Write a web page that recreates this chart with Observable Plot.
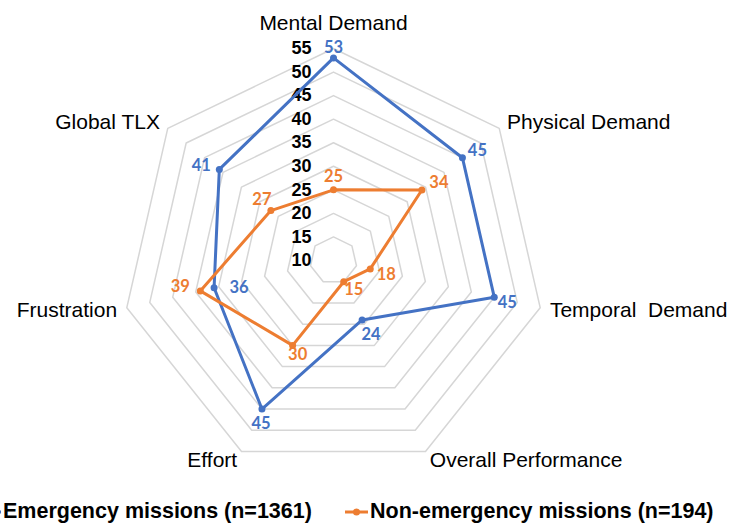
<!DOCTYPE html>
<html><head><meta charset="utf-8">
<script src="https://cdn.jsdelivr.net/npm/d3@7"></script>
<script src="https://cdn.jsdelivr.net/npm/@observablehq/plot@0.6"></script>
<style>
html,body{margin:0;padding:0;background:#fff;overflow:hidden;}
#wrap{position:relative;width:734px;height:524px;overflow:hidden;}
#chart svg{display:block;}
.leg-item{position:absolute;top:0;height:34px;white-space:nowrap;}
.leg-item svg{position:absolute;top:10px;left:0;}
.leg-item span{position:absolute;top:8.6px;left:25px;font:bold 21.5px "Liberation Sans",Arial,sans-serif;line-height:24px;color:#000;}
#legend{position:absolute;left:0;top:490px;width:734px;height:34px;}
</style></head>
<body><div id="wrap"><div id="chart"></div><div id="legend"></div></div>
<script>
// ---- data ----
const axes = ["Mental Demand","Physical Demand","Temporal  Demand","Overall Performance","Effort","Frustration","Global TLX"];
const seriesNames = ["Emergency missions (n=1361)","Non-emergency missions (n=194)"];
const emergency = [53,45,45,24,45,36,41];
const nonEmergency = [25,34,18,15,30,39,27];
const ticks = [10,15,20,25,30,35,40,45,50,55];
const colors = ["#4472C4","#ED7D31"];

// ---- layout ----
const W = 734, H = 490, cx = 333, cy = 260, R = 212;
const rMin = ticks[0], rMax = ticks[ticks.length-1];
const k = R / (rMax - rMin);
const ang = i => i * 2 * Math.PI / axes.length;
const X = (v,i) => (v - rMin) * Math.sin(ang(i));
const Y = (v,i) => (v - rMin) * Math.cos(ang(i));

const rows = [];
[emergency, nonEmergency].forEach((vals, s) => vals.forEach((v,i) => rows.push({series: seriesNames[s], s, i, value: v})));

const rings = ticks.filter(t => t > rMin).flatMap(t => axes.map((a,i) => ({t, i})));

// data label pixel offsets (label centre relative to point)
const labelOff = [
  [[0,-10],[15,-7],[13,6],[9,15],[-1,15],[25,0],[-18,-4]],
  [[0,-13],[17,-7],[16,6],[10,8],[5,9],[-20,-4],[-9,-11]]
];

const labR = 222 / k, topR = 237 / k;
const axisItems = axes.map((name,i) => ({name, i}));
const axX = d => (d.i === 0 ? topR : labR) * Math.sin(ang(d.i));
const axY = d => (d.i === 0 ? topR : labR) * Math.cos(ang(d.i));
const txtFont = '"Liberation Sans", Arial, sans-serif';

const chart = Plot.plot({
  width: W, height: H,
  marginLeft: 0, marginRight: 0, marginTop: 0, marginBottom: 0,
  x: {domain: [-cx / k, (W - cx) / k], range: [0, W], axis: null},
  y: {domain: [(cy - H) / k, cy / k], range: [H, 0], axis: null},
  color: {domain: seriesNames, range: colors},
  style: {fontFamily: txtFont, background: "#fff"},
  marks: [
    Plot.line(rings, {x: d => X(d.t, d.i), y: d => Y(d.t, d.i), z: "t", curve: "linear-closed", stroke: "#d6d6d6", strokeWidth: 1.5}),
    Plot.text(ticks, {x: 0, y: t => t - rMin, text: t => String(t), textAnchor: "end", dx: -22, fontWeight: "bold", fontSize: 18, fill: "#000"}),
    Plot.line(rows, {x: d => X(d.value, d.i), y: d => Y(d.value, d.i), z: "series", stroke: "series", curve: "linear-closed", strokeWidth: 3, strokeLinejoin: "round"}),
    Plot.dot(rows, {x: d => X(d.value, d.i), y: d => Y(d.value, d.i), fill: "series", r: 3.5}),
    Plot.text(rows, {
      x: d => X(d.value, d.i) + labelOff[d.s][d.i][0] / k,
      y: d => Y(d.value, d.i) - labelOff[d.s][d.i][1] / k,
      text: d => String(d.value), fill: "series", fontWeight: "bold", fontSize: 16.5,
      fontFamily: "Lato, 'Open Sans', sans-serif"
    }),
    Plot.text(axisItems.filter(d => d.i === 0), {x: axX, y: axY, text: "name", textAnchor: "middle", fontSize: 21, fill: "#000"}),
    Plot.text(axisItems.filter(d => d.i >= 1 && d.i <= 3), {x: axX, y: axY, text: "name", textAnchor: "start", fontSize: 21, fill: "#000"}),
    Plot.text(axisItems.filter(d => d.i >= 4), {x: axX, y: axY, text: "name", textAnchor: "end", fontSize: 21, fill: "#000"})
  ]
});
document.getElementById("chart").appendChild(chart);

// ---- legend ----
const legend = document.getElementById("legend");
const legLeft = [-22, 345];
seriesNames.forEach((name, s) => {
  const item = document.createElement("div");
  item.className = "leg-item";
  item.style.left = legLeft[s] + "px";
  item.innerHTML = `<svg width="24" height="24"><line x1="0" y1="12" x2="23" y2="12" stroke="${colors[s]}" stroke-width="3"/><circle cx="11.5" cy="12" r="3.5" fill="${colors[s]}"/></svg><span>${name}</span>`;
  legend.appendChild(item);
});
</script>
</body></html>
